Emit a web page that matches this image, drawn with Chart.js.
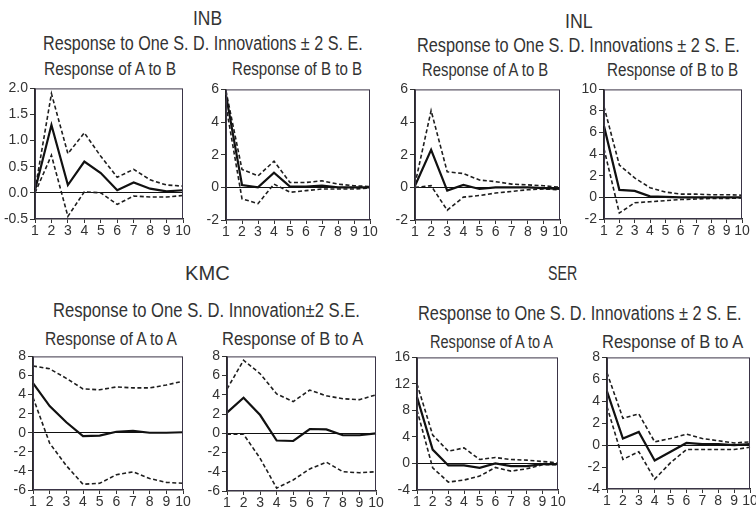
<!DOCTYPE html>
<html>
<head>
<meta charset="utf-8">
<script src="https://cdn.jsdelivr.net/npm/chart.js@4.4.0/dist/chart.umd.min.js"></script>
<style>
  body { margin: 0; background: #fff; width: 756px; height: 514px; position: relative; overflow: hidden;
         font-family: "Liberation Sans Narrow", "Liberation Sans", Arial, sans-serif; color: #333; }
  canvas { position: absolute; }
  .t { position: absolute; white-space: nowrap; transform-origin: 0 50%; line-height: 1; }
</style>
</head>
<body>
<script>
// 期間（横軸）
const periods = ['1', '2', '3', '4', '5', '6', '7', '8', '9', '10'];

// INB: Response of A to B
const inbAB_resp = [0.05, 1.30, 0.15, 0.60, 0.38, 0.05, 0.20, 0.08, 0.03, 0.05];
const inbAB_up   = [0.05, 1.90, 0.75, 1.15, 0.70, 0.30, 0.45, 0.25, 0.15, 0.13];
const inbAB_lo   = [0.00, 0.72, -0.45, 0.02, 0.00, -0.22, -0.06, -0.08, -0.08, -0.05];

// INB: Response of B to B
const inbBB_resp = [5.65, 0.14, 0.00, 0.90, 0.05, 0.05, 0.10, 0.00, 0.00, 0.00];
const inbBB_up   = [5.90, 1.10, 0.70, 1.60, 0.30, 0.30, 0.40, 0.20, 0.10, 0.05];
const inbBB_lo   = [5.00, -0.70, -1.00, 0.20, -0.30, -0.20, -0.10, -0.10, -0.10, -0.05];

// INL: Response of A to B
const inlAB_resp = [0.10, 2.30, -0.20, 0.15, -0.10, 0.00, 0.00, 0.00, -0.05, -0.10];
const inlAB_up   = [0.20, 4.70, 0.95, 0.85, 0.45, 0.35, 0.20, 0.15, 0.10, 0.00];
const inlAB_lo   = [0.00, 0.10, -1.40, -0.60, -0.50, -0.35, -0.25, -0.15, -0.10, -0.15];

// INL: Response of B to B
const inlBB_resp = [6.60, 0.70, 0.60, 0.10, 0.05, 0.00, 0.00, 0.00, 0.00, 0.00];
const inlBB_up   = [8.40, 3.00, 1.80, 0.90, 0.50, 0.30, 0.30, 0.25, 0.25, 0.20];
const inlBB_lo   = [4.50, -1.45, -0.50, -0.40, -0.30, -0.20, -0.15, -0.10, -0.10, -0.05];

// KMC: Response of A to A
const kmcAA_resp = [5.20, 2.80, 1.10, -0.35, -0.30, 0.10, 0.20, 0.00, 0.00, 0.05];
const kmcAA_up   = [7.00, 6.70, 5.70, 4.60, 4.50, 4.80, 4.70, 4.70, 5.00, 5.40];
const kmcAA_lo   = [3.70, -1.10, -3.45, -5.40, -5.30, -4.40, -4.10, -4.80, -5.20, -5.30];

// KMC: Response of B to A
const kmcBA_resp = [2.15, 3.70, 1.90, -0.75, -0.80, 0.45, 0.40, -0.20, -0.20, 0.00];
const kmcBA_up   = [4.60, 7.60, 6.20, 4.10, 3.30, 4.50, 3.90, 3.60, 3.50, 4.00];
const kmcBA_lo   = [-0.10, -0.10, -2.60, -5.70, -4.85, -3.70, -3.00, -4.00, -4.10, -4.00];

// SER: Response of A to A
const serAA_resp = [10.0, 2.10, -0.30, -0.30, -0.65, 0.00, -0.40, -0.40, -0.10, -0.10];
const serAA_up   = [12.0, 4.30, 1.85, 2.35, 0.60, 0.90, 0.60, 0.50, 0.30, 0.10];
const serAA_lo   = [8.05, -0.65, -2.80, -2.50, -1.90, -0.60, -1.15, -0.80, -0.20, -0.20];

// SER: Response of B to A
const serBA_resp = [4.90, 0.60, 1.20, -1.40, -0.60, 0.20, 0.10, 0.10, 0.00, 0.10];
const serBA_up   = [6.60, 2.45, 2.85, 0.30, 0.60, 1.00, 0.60, 0.40, 0.20, 0.30];
const serBA_lo   = [3.50, -1.30, -0.60, -3.10, -1.60, -0.40, -0.40, -0.40, -0.40, -0.20];

Chart.defaults.font.family = '"Liberation Sans Narrow", "Liberation Sans", Arial, sans-serif';

// 見出しテキスト [文字列, 左端, 右端, 中心y, サイズ]
const labels = [
  ['INB', 193, 222, 17, 21],
  ['Response to One S. D. Innovations \u00b1 2 S. E.', 43, 363, 43, 20],
  ['Response of A to B', 44, 176, 69, 18],
  ['Response of B to B', 232, 362, 69, 18],
  ['INL', 565, 593, 20, 21],
  ['Response to One S. D. Innovations \u00b1 2 S. E.', 417, 740, 45, 20],
  ['Response of A to B', 422, 548, 70, 18],
  ['Response of B to B', 607, 738, 70, 18],
  ['KMC', 185, 230, 272, 21],
  ['Response to One S. D. Innovation\u00b12 S.E.', 53, 360, 310, 20],
  ['Response of A to A', 45, 177, 339, 18],
  ['Response of B to A', 222, 363, 339, 18],
  ['SER', 548, 577, 272, 21],
  ['Response to One S. D. Innovations \u00b1 2 S. E.', 418, 742, 313, 20],
  ['Response of A to A', 430, 553, 342, 18],
  ['Response of B to A', 602, 743, 342, 18]
];

labels.forEach(([txt, x1, x2, y, size]) => {
  const d = document.createElement('div');
  d.className = 't';
  d.textContent = txt;
  d.style.fontSize = size + 'px';
  d.style.left = x1 + 'px';
  d.style.top = (y - size * 0.49) + 'px';
  document.body.appendChild(d);
  const k = (x2 - x1) / d.offsetWidth;
  d.style.transform = 'scaleX(' + k.toFixed(3) + ')';
});

// プロット枠
const framePlugin = {
  id: 'frame',
  afterDraw(chart) {
    const { ctx, chartArea: a } = chart;
    ctx.save();
    ctx.strokeStyle = '#3a3446';
    ctx.lineWidth = 1;
    ctx.strokeRect(a.left + 0.5, a.top + 0.5, a.right - a.left - 1, a.bottom - a.top - 1);
    ctx.restore();
  }
};

// パネル定義（l, t, r, b はプロット領域）
const panels = [
  { l: 35,  t: 86,  r: 183, b: 219, min: -0.5, max: 2,  step: 0.5, dec: true, resp: inbAB_resp, up: inbAB_up, lo: inbAB_lo },
  { l: 226, t: 87,  r: 370, b: 220, min: -2, max: 6,  step: 2, resp: inbBB_resp, up: inbBB_up, lo: inbBB_lo },
  { l: 415, t: 87,  r: 560, b: 220, min: -2, max: 6,  step: 2, resp: inlAB_resp, up: inlAB_up, lo: inlAB_lo },
  { l: 604, t: 87,  r: 742, b: 219, min: -2, max: 10, step: 2, resp: inlBB_resp, up: inlBB_up, lo: inlBB_lo },
  { l: 33,  t: 354, r: 183, b: 490, min: -6, max: 8,  step: 2, resp: kmcAA_resp, up: kmcAA_up, lo: kmcAA_lo },
  { l: 227, t: 354, r: 376, b: 491, min: -6, max: 8,  step: 2, resp: kmcBA_resp, up: kmcBA_up, lo: kmcBA_lo },
  { l: 417, t: 355, r: 558, b: 490, min: -4, max: 16, step: 4, resp: serAA_resp, up: serAA_up, lo: serAA_lo },
  { l: 607, t: 355, r: 750, b: 489, min: -4, max: 8,  step: 2, resp: serBA_resp, up: serBA_up, lo: serBA_lo }
];

function makePanel(p) {
  const W = 34, H = 24, padT = 8, padR = 8;
  const cv = document.createElement('canvas');
  cv.width = p.r - p.l + W + padR;
  cv.height = p.b - p.t + padT + H;
  cv.style.left = (p.l - W) + 'px';
  cv.style.top = (p.t - padT) + 'px';
  document.body.appendChild(cv);

  const band = { borderColor: '#1e1e1e', borderWidth: 1.6, borderDash: [4, 2.5] };

  new Chart(cv, {
    type: 'line',
    data: {
      labels: periods,
      datasets: [
        { data: p.resp, borderColor: '#111', borderWidth: 2.2 },
        Object.assign({ data: p.up }, band),
        Object.assign({ data: p.lo }, band)
      ]
    },
    options: {
      responsive: false,
      animation: false,
      events: [],
      layout: { padding: { top: padT, right: padR, left: 0, bottom: 0 } },
      elements: { point: { radius: 0 }, line: { tension: 0 } },
      plugins: { legend: { display: false }, tooltip: { enabled: false } },
      scales: {
        x: {
          type: 'category',
          offset: false,
          grid: { drawOnChartArea: false, drawTicks: true, tickLength: 4, tickColor: '#333' },
          border: { color: '#2a2a2a', width: 1.5 },
          ticks: { color: '#333', font: { size: 14 }, padding: 0, maxRotation: 0, autoSkip: false },
          afterFit(s) { s.height = H; }
        },
        y: {
          min: p.min,
          max: p.max,
          ticks: {
            stepSize: p.step, color: '#333', font: { size: 14 }, padding: 2, autoSkip: false,
            callback: v => p.dec ? Number(v).toFixed(1) : String(v)
          },
          grid: {
            color: c => (c.tick && c.tick.value === 0) ? '#111' : 'rgba(0,0,0,0)',
            tickColor: '#333', tickLength: 5
          },
          border: { color: '#2a2a2a', width: 1.5 },
          afterFit(s) { s.width = W; }
        }
      }
    },
    plugins: [framePlugin]
  });
}

panels.forEach(makePanel);
</script>
</body>
</html>
